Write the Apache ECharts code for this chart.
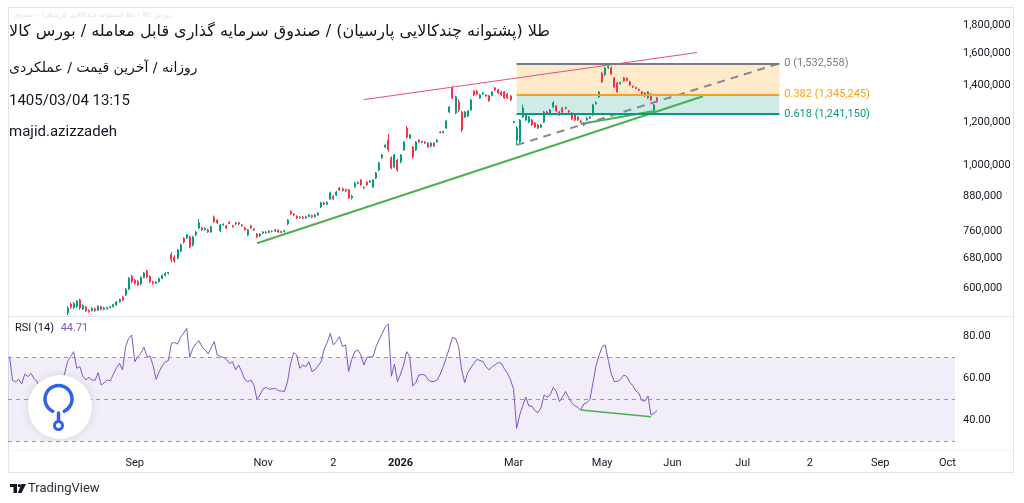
<!DOCTYPE html>
<html>
<head>
<meta charset="utf-8">
<script src="https://cdn.jsdelivr.net/npm/echarts@6/dist/echarts.min.js"></script>
<style>
html,body{margin:0;padding:0;background:#fff;}
#chart{width:1024px;height:503px;}
</style>
</head>
<body>
<div id="chart"></div>
<script>
// بازه های زمانی: هر دسته یک روز معاملاتی (با روزهای خالی آینده)
var barCount = 310;
var firstBar = 19;
var tickIndex = [41, 83, 106, 128, 165, 194, 217, 240, 262, 285, 307];
var tickText = ['Sep', 'Nov', '2', '2026', 'Mar', 'May', 'Jun', 'Jul', '2', 'Sep', 'Oct'];
var priceTicks = [600000, 680000, 760000, 880000, 1000000, 1200000, 1400000, 1600000, 1800000];
var rsiTicks = [40, 60, 80];

// قیمت ها به هزار ریال، از کندل شماره 19 تا 212
var open = [
 541,561,553,555,571,550,554,546,546,550,
 547,555,549,550,553,555,559,566,578,583,
 597,630,620,617,610,627,644,630,616,612,
 616,625,633,638,690,683,680,700,739,740,
 743,718,749,771,771,766,765,758,807,797,
 762,781,778,790,778,784,788,781,771,749,
 778,768,752,746,754,758,757,761,761,764,
 757,760,784,826,817,810,805,807,804,809,
 812,808,814,842,856,851,870,880,885,911,
 908,905,904,874,915,928,942,914,934,934,
 915,950,982,1033,1081,1113,1033,995,1024,1016,
 1068,1170,1122,1081,1068,1113,1102,1104,1099,1085,
 1099,1104,1151,1148,1170,1251,1383,1246,1305,1251,
 1226,1231,1262,1366,1366,1327,1350,1344,1338,1340,
 1383,1372,1361,1361,1349,1338,1198,1113,1104,1226,
 1210,1200,1210,1195,1185,1175,1200,1251,1246,1278,
 1284,1251,1273,1270,1257,1246,1236,1226,1205,1195,
 1210,1220,1236,1295,1333,1473,1461,1504,1504,1443,
 1413,1410,1443,1440,1419,1392,1386,1375,1361,1355,
 1327,1349,1257,1327
];
var close = [
 552,554,562,568,552,557,545,544,551,546,
 556,549,552,553,555,560,566,572,571,597,
 625,616,612,608,627,639,628,616,612,615,
 624,632,638,640,676,672,703,718,727,749,
 712,743,758,788,765,770,758,775,791,788,
 781,783,771,786,775,788,784,778,765,765,
 771,765,743,752,758,756,761,760,765,758,
 760,762,797,818,814,804,807,804,808,814,
 807,814,820,856,852,858,893,870,896,904,
 902,900,874,880,930,932,923,911,923,938,
 942,970,1011,1046,1090,1068,990,1046,982,1046,
 1104,1127,1137,1037,1104,1104,1106,1099,1081,1099,
 1085,1113,1148,1153,1205,1278,1327,1333,1262,1161,
 1251,1257,1316,1344,1349,1344,1355,1338,1311,1361,
 1372,1355,1344,1327,1327,1316,1202,1170,1210,1273,
 1236,1226,1185,1175,1170,1185,1251,1246,1262,1300,
 1257,1236,1251,1275,1251,1215,1210,1210,1200,1185,
 1220,1226,1289,1302,1361,1419,1504,1512,1467,1389,
 1361,1416,1425,1428,1401,1389,1380,1370,1344,1338,
 1361,1316,1289,1309.498
];
var low = [
 536,550,550,552,548,547,543,541,544,543,
 545,546,547,548,551,553,557,564,568,580,
 595,612,608,605,607,625,624,612,608,610,
 614,622,630,635,668,666,676,697,722,736,
 708,714,745,768,761,762,755,755,788,784,
 758,778,768,783,772,780,781,775,762,745,
 768,761,739,742,751,752,754,757,758,755,
 754,757,780,814,810,800,801,800,801,806,
 804,805,811,838,848,848,866,866,881,900,
 898,896,870,868,912,925,919,906,919,930,
 911,946,978,1029,1077,1060,985,990,975,1010,
 1064,1120,1117,1030,1064,1099,1098,1095,1077,1080,
 1080,1100,1144,1144,1166,1246,1320,1240,1250,1150,
 1220,1225,1257,1338,1344,1322,1344,1333,1305,1336,
 1366,1349,1338,1322,1322,1311,1195,1090,1099,1220,
 1205,1195,1180,1170,1165,1170,1195,1240,1241,1273,
 1251,1231,1246,1265,1246,1210,1205,1205,1195,1180,
 1205,1215,1231,1290,1327,1413,1455,1498,1461,1383,
 1355,1402,1419,1422,1395,1383,1375,1366,1338,1333,
 1322,1311,1251,1300
];
var high = [
 556,565,566,571,574,560,557,549,554,553,
 558,557,554,555,557,562,568,574,581,600,
 628,634,623,620,630,642,648,633,619,618,
 627,635,641,642,697,688,706,722,742,752,
 746,746,761,800,775,773,768,778,812,800,
 784,786,781,793,781,791,791,784,775,768,
 781,771,755,755,761,761,764,764,768,767,
 762,765,800,830,820,813,810,810,811,817,
 815,818,824,860,860,862,897,885,900,915,
 912,909,908,885,934,936,946,918,937,942,
 945,974,1016,1050,1094,1142,1040,1050,1030,1050,
 1108,1180,1142,1086,1108,1117,1110,1108,1103,1103,
 1103,1117,1156,1157,1210,1283,1395,1340,1320,1257,
 1257,1262,1322,1372,1372,1350,1361,1349,1344,1366,
 1389,1378,1366,1366,1355,1344,1206,1180,1215,1290,
 1241,1231,1215,1200,1190,1190,1257,1257,1267,1310,
 1289,1257,1278,1280,1262,1251,1241,1231,1210,1200,
 1226,1231,1294,1308,1366,1480,1510,1532.558,1515,1449,
 1419,1420,1449,1446,1425,1398,1392,1380,1366,1361,
 1366,1355,1295,1333
];

// RSI(14) از کندل 0 تا 212
var rsi = [
 70.3,59,58.4,59.5,57.3,62,60.8,62.4,60,58.4,
 55,52,54,51,53,56,54,58,62,68,
 70.3,72.7,64.8,65.6,61,59.2,60.5,59.2,59,62.7,
 56.8,57.9,59.2,58.9,62,65,67.1,64,75.1,79,
 80.6,67.9,70.3,72,74.8,70.3,70.6,66,59.5,63.2,
 66,67.9,68.4,76.7,77,76.3,79.5,81.5,83.8,70,
 74.3,76.5,77.9,75.1,73.5,71.6,74.5,77.5,71.1,70.3,
 70,69,67.1,67.9,64,66.3,63.2,59.5,58.4,59.2,
 56.8,50,52.1,55,55.7,54.8,55,55.2,54.1,54,
 53.7,58.4,67.1,72.2,71.1,64.8,66.3,65.6,67.9,63.2,
 64,66,67.9,74,77,81.4,75.9,77.5,79.8,75.1,
 75.9,63.2,69,72.7,73.5,71.1,66.3,70,70.2,70.3,
 75.1,78.5,81.4,84.5,85.8,61,66.8,58.4,62,66.3,
 72.7,70.3,56.3,58,61.6,61.8,61.6,59.5,58.4,58.6,
 59.2,62,65.6,70,74.5,79.5,79,75.1,64,58,
 62.7,65,67.1,69,68.5,67.9,65.5,64,65.6,66.5,
 67.5,67.1,64.5,62.4,59.2,55,36.2,42.5,47,51,
 46.8,46.8,44.6,43.7,46.2,52.1,51,52.1,55.7,53.7,
 48.9,51,53.7,51,48.5,47,46.2,44.9,47.8,48.4,
 50,58,66,71,75,75.9,68.5,62,58.5,58.5,
 59.5,61.5,61,58.2,56.5,54,53,49.4,49.2,51.6,
 42.5,43.5,44.71
];

var lastPrice = 1309498;
var fibLevels = [0, 0.382, 0.618];
var fibPrices = [1532558, 1345245, 1241150];
var fibColors = ['#787b86', '#f5a31a', '#089981'];
var fibRange = [166, 252];
var fibLow = 1090200;
// خطوط روند: [اندیس کندل، قیمت]
var redLine = [[116, 1317800], [225, 1604000]];
var greenLine = [[81, 723200], [227, 1336600]];
var greenShort = [[187, 1189700], [211, 1256400]];
var rsiGreen = [[187, 44.9], [210, 41.7]];

function lg(v) { return Math.log10(v); }
function fmt(v) { return Math.round(v).toLocaleString('en-US'); }

var categories = [];
for (var i = 0; i < barCount; i++) categories.push(String(i));

var candles = [];
for (var i = 0; i < open.length; i++) {
    candles.push([firstBar + i, lg(open[i] * 1000), lg(close[i] * 1000), lg(low[i] * 1000), lg(high[i] * 1000)]);
}

function seg(pts, style) {
    return [{coord: [pts[0][0], lg(pts[0][1])], lineStyle: style},
            {coord: [pts[1][0], lg(pts[1][1])]}];
}

var priceLines = [
    seg(redLine, {color: '#e8506e', width: 1, type: 'solid'}),
    seg(greenLine, {color: '#4caf50', width: 2, type: 'solid'}),
    seg(greenShort, {color: '#4caf50', width: 2, type: 'solid'}),
    seg([[fibRange[0], fibLow], [fibRange[1], fibPrices[0]]], {color: '#868993', width: 2, type: [8, 6]})
];
for (var k = 0; k < fibLevels.length; k++) {
    var l = seg([[fibRange[0], fibPrices[k]], [fibRange[1], fibPrices[k]]], {color: fibColors[k], width: 2, type: 'solid'});
    l[0].label = {show: true, position: 'end', distance: 5, color: fibColors[k], fontSize: 11, fontFamily: 'Roboto',
        formatter: fibLevels[k] + ' (' + fibPrices[k].toLocaleString('en-US') + ')'};
    priceLines.push(l);
}
priceLines.push({yAxis: lg(lastPrice), lineStyle: {opacity: 0},
    label: {show: true, position: 'end', distance: 2, formatter: fmt(lastPrice), color: '#fff',
        backgroundColor: '#f23645', padding: [3, 5, 2, 5], borderRadius: 2, fontSize: 11, fontFamily: 'Roboto'}});

var fibAreas = [
    [{coord: [fibRange[0], lg(fibPrices[0])], itemStyle: {color: 'rgba(255,152,0,0.2)'}}, {coord: [fibRange[1], lg(fibPrices[1])]}],
    [{coord: [fibRange[0], lg(fibPrices[1])], itemStyle: {color: 'rgba(8,153,129,0.2)'}}, {coord: [fibRange[1], lg(fibPrices[2])]}]
];

var dash = {color: '#9598a1', width: 1, type: [4, 4]};
var rsiLines = [
    {yAxis: 70, lineStyle: dash}, {yAxis: 50, lineStyle: dash}, {yAxis: 30, lineStyle: dash},
    [{coord: rsiGreen[0], lineStyle: {color: '#4caf50', width: 1.5, type: 'solid'}}, {coord: rsiGreen[1]}]
];

var txt = '#131722';
var fa = '"DejaVu Sans", sans-serif';
var blue = '#2f62e6';

var myChart = echarts.init(document.getElementById('chart'));
var option = {
    animation: false,
    backgroundColor: '#fff',
    textStyle: {fontFamily: 'Roboto'},
    grid: [
        {left: 8, right: 69, top: 8, height: 308, outerBoundsMode: 'none'},
        {left: 8, right: 69, top: 318, height: 132, outerBoundsMode: 'none'}
    ],
    xAxis: [
        {type: 'category', gridIndex: 0, data: categories, axisLine: {show: false}, axisTick: {show: false},
            axisLabel: {show: false}, splitLine: {show: false}},
        {type: 'category', gridIndex: 1, data: categories, axisLine: {show: false}, axisTick: {show: false},
            splitLine: {show: false},
            axisLabel: {
                interval: function (i) { return tickIndex.indexOf(i) >= 0; },
                formatter: function (v, i) {
                    var t = tickText[tickIndex.indexOf(i)];
                    return t === '2026' ? '{b|' + t + '}' : t;
                },
                color: txt, fontSize: 11, margin: 8,
                rich: {b: {fontWeight: 'bold', fontSize: 11, color: txt}}
            }}
    ],
    yAxis: [
        {type: 'value', gridIndex: 0, position: 'right', min: lg(533800), max: lg(1932000),
            axisLine: {show: false}, axisTick: {show: false}, splitLine: {show: false},
            axisLabel: {customValues: priceTicks.map(lg), formatter: function (v) { return fmt(Math.pow(10, v)); },
                color: txt, fontSize: 11, margin: 8}},
        {type: 'value', gridIndex: 1, position: 'right', min: 25.9, max: 88.7,
            axisLine: {show: false}, axisTick: {show: false}, splitLine: {show: false},
            axisLabel: {customValues: rsiTicks, formatter: function (v) { return v.toFixed(2); },
                color: txt, fontSize: 11, margin: 8}}
    ],
    series: [
        {type: 'candlestick', xAxisIndex: 0, yAxisIndex: 0, data: candles,
            encode: {x: 0, y: [1, 2, 3, 4]}, barWidth: 1.5,
            itemStyle: {color: '#089981', color0: '#f23645', borderColor: '#089981', borderColor0: '#f23645', borderWidth: 1},
            markArea: {silent: true, data: fibAreas},
            markLine: {silent: true, symbol: ['none', 'none'], label: {show: false}, data: priceLines}},
        {type: 'line', xAxisIndex: 1, yAxisIndex: 1, data: rsi, showSymbol: false,
            lineStyle: {color: '#7e57c2', width: 1}, itemStyle: {color: '#7e57c2'},
            markArea: {silent: true, itemStyle: {color: 'rgba(126,87,194,0.1)'}, data: [[{yAxis: 30}, {yAxis: 70}]]},
            markLine: {silent: true, symbol: ['none', 'none'], label: {show: false}, data: rsiLines}}
    ],
    graphic: [
        {type: 'rect', silent: true, z: -10, shape: {x: 8.5, y: 7.5, width: 1005, height: 465},
            style: {fill: 'none', stroke: '#e0e3eb', lineWidth: 1}},
        {type: 'line', silent: true, shape: {x1: 8, y1: 316.5, x2: 1013, y2: 316.5}, style: {stroke: '#e0e3eb'}},
        {type: 'line', silent: true, shape: {x1: 8, y1: 450.5, x2: 1013, y2: 450.5}, style: {stroke: '#f0f3fa'}},
        {type: 'text', silent: true, x: 14, y: 15,
            style: {text: 'بورس کالا - طلا (پشتوانه چندکالایی پارسیان) - صندوق', font: '7px ' + fa, fill: '#e2e2e2', verticalAlign: 'middle'}},
        {type: 'text', silent: true, x: 9, y: 32,
            style: {text: 'طلا (پشتوانه چندکالایی پارسیان) / صندوق سرمایه گذاری قابل معامله / بورس کالا', font: '16px ' + fa, fill: txt, verticalAlign: 'middle'}},
        {type: 'text', silent: true, x: 9, y: 68,
            style: {text: 'روزانه / آخرین قیمت / عملکردی', font: '14px ' + fa, fill: txt, verticalAlign: 'middle'}},
        {type: 'text', silent: true, x: 9, y: 101,
            style: {text: '1405/03/04 13:15', font: '15px Roboto', fill: txt, verticalAlign: 'middle'}},
        {type: 'text', silent: true, x: 9, y: 132,
            style: {text: 'majid.azizzadeh', font: '15px Roboto', fill: txt, verticalAlign: 'middle'}},
        {type: 'text', silent: true, x: 15, y: 328, z: 50,
            style: {text: '{a|RSI (14)}  {b|44.71}', verticalAlign: 'middle',
                rich: {a: {fontSize: 11, fontFamily: 'Roboto', fill: txt, color: txt},
                       b: {fontSize: 11, fontFamily: 'Roboto', fill: '#7e57c2', color: '#7e57c2'}}}},
        {type: 'circle', silent: true, z: 100, shape: {cx: 60, cy: 407, r: 32},
            style: {fill: '#fff', shadowBlur: 8, shadowColor: 'rgba(0,0,0,0.12)'}},
        {type: 'arc', silent: true, z: 101, shape: {cx: 58.5, cy: 399, r: 13.5, startAngle: Math.PI * 0.64, endAngle: Math.PI * 2.36, clockwise: true},
            style: {stroke: blue, lineWidth: 3.5, fill: 'none', lineCap: 'round'}},
        {type: 'line', silent: true, z: 101, shape: {x1: 58.5, y1: 413, x2: 58.5, y2: 421},
            style: {stroke: blue, lineWidth: 3.5, lineCap: 'round'}},
        {type: 'circle', silent: true, z: 101, shape: {cx: 58.5, cy: 425.5, r: 4},
            style: {stroke: blue, lineWidth: 3, fill: 'none'}},
        {type: 'rect', silent: true, shape: {x: 10, y: 484, width: 7, height: 3}, style: {fill: txt}},
        {type: 'rect', silent: true, shape: {x: 13.5, y: 484, width: 3.5, height: 9}, style: {fill: txt}},
        {type: 'circle', silent: true, shape: {cx: 19.3, cy: 485.6, r: 1.6}, style: {fill: txt}},
        {type: 'polygon', silent: true, shape: {points: [[21.5, 484], [26, 484], [21.5, 493], [17.8, 493]]}, style: {fill: txt}},
        {type: 'text', silent: true, x: 28, y: 489,
            style: {text: 'TradingView', font: '13px Roboto', fill: '#2a2e39', verticalAlign: 'middle'}}
    ]
};
myChart.setOption(option);
</script>
</body>
</html>
